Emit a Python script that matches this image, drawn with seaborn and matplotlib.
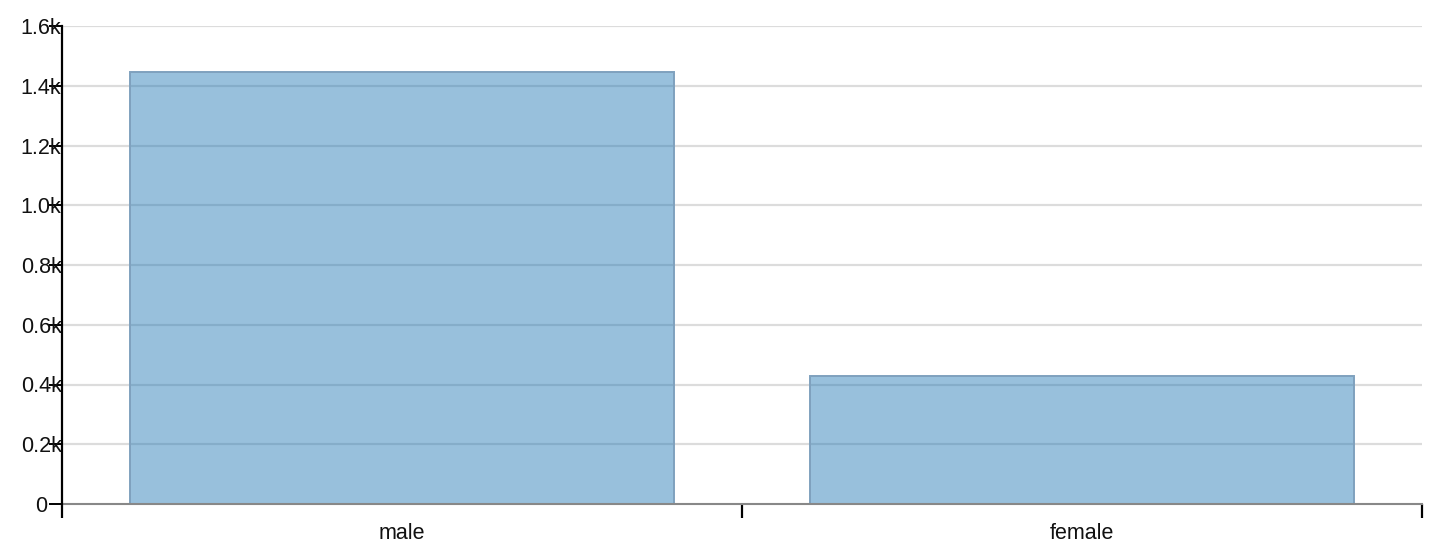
import matplotlib
matplotlib.use("Agg")
import matplotlib.pyplot as plt
import pandas as pd
import seaborn as sns

# valores
sexo = ["male", "female"]
conteo = [1446, 428]
y_ticks = [0, 200, 400, 600, 800, 1000, 1200, 1400, 1600]
y_labels = ["0", "0.2k", "0.4k", "0.6k", "0.8k", "1.0k", "1.2k", "1.4k", "1.6k"]

df = pd.DataFrame({"sex": sexo, "count": conteo})

sns.set_theme(style="white")
plt.rcParams["font.family"] = ["Liberation Sans", "DejaVu Sans"]

DPI = 100
W, H = 1440, 546
fig = plt.figure(figsize=(W / DPI, H / DPI), dpi=DPI)
ax = fig.add_axes([62 / W, 1 - 504 / H, (1422 - 62) / W, (504 - 26) / H])

sns.barplot(
    data=df, x="sex", y="count", ax=ax, width=0.8,
    color="#1f77b4", edgecolor="#7fa1be", linewidth=1.4, zorder=2,
)
# relleno semitransparente como en el original
for p in ax.patches:
    p.set_facecolor((31 / 255, 119 / 255, 180 / 255, 0.46))
    p.set_edgecolor("#7fa1be")

ax.set_xlim(-0.5, 1.5)
ax.set_ylim(0, 1600)
ax.set_xlabel("")
ax.set_ylabel("")

# cuadrícula horizontal
for v in y_ticks[1:]:
    ax.axhline(v, color="#dcdcdc", lw=1.6, zorder=1)

# eje y
ax.set_yticks(y_ticks)
ax.set_yticklabels(y_labels)
ax.tick_params(axis="y", length=9.5, width=1.4, color="black", pad=5.5, left=True,
               labelsize=15.5, labelcolor="#111111")
for lab in ax.get_yticklabels():
    lab.set_horizontalalignment("center")

# eje x: marcas en los bordes de cada banda, etiquetas en el centro
ax.set_xticks([-0.5, 0.5, 1.5])
ax.set_xticklabels(["", "", ""])
ax.set_xticks([0, 1], minor=True)
ax.set_xticklabels(sexo, minor=True)
ax.tick_params(axis="x", which="major", length=10, width=1.6, color="black", bottom=True)
ax.tick_params(axis="x", which="minor", length=0, pad=13.5, labelsize=15.5, labelcolor="#111111")

for s in ["top", "right"]:
    ax.spines[s].set_visible(False)
ax.spines["left"].set_color("black")
ax.spines["left"].set_linewidth(1.6)
ax.spines["left"].set_zorder(4)
ax.spines["bottom"].set_color("#888888")
ax.spines["bottom"].set_linewidth(1.5)

fig.savefig("out.png", dpi=DPI)
plt.close(fig)
